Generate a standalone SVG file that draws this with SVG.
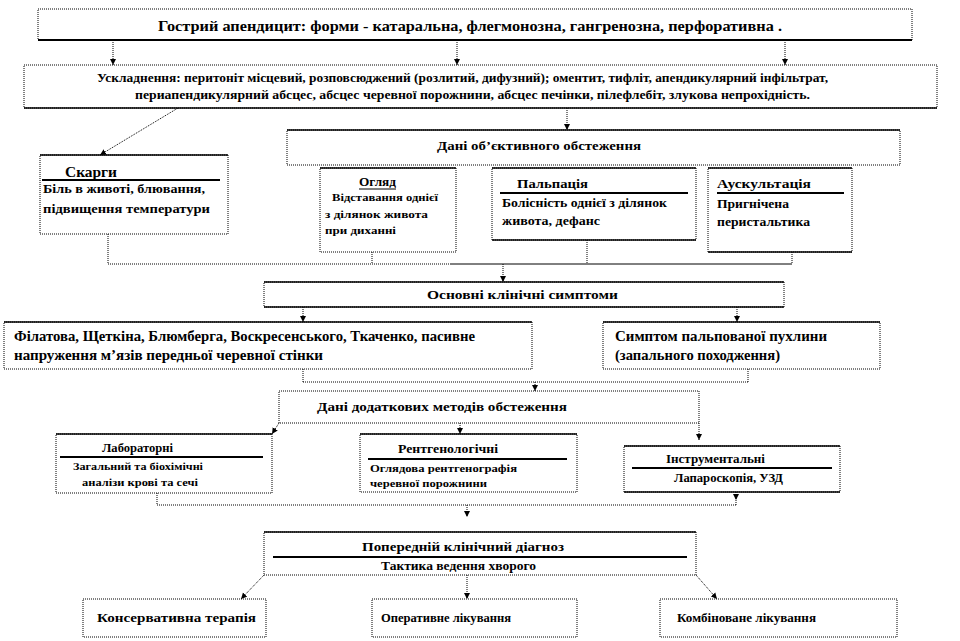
<svg xmlns="http://www.w3.org/2000/svg" width="960" height="641" viewBox="0 0 960 641">
<defs>
<marker id="ar" markerUnits="userSpaceOnUse" markerWidth="7" markerHeight="7" refX="6" refY="3.5" orient="auto">
<path d="M0,0.5 L6,3.5 L0,6.5 z" fill="#000"/>
</marker>
<style>
.box{fill:#fff;stroke:#000;stroke-width:1;stroke-dasharray:1 1}
.sl{stroke:#000;stroke-width:1.5}
.ul{stroke:#000;stroke-width:2}
.c{fill:none;stroke:#000;stroke-width:1;stroke-dasharray:1 1}
.ca{fill:none;stroke:#000;stroke-width:1;stroke-dasharray:1 1;marker-end:url(#ar)}
.t{font-family:"Liberation Serif","Times New Roman",serif;font-weight:bold;fill:#000}
</style>
</defs>
<rect width="960" height="641" fill="#fff"/>

<g id="connectors">
<line class="ca" x1="113" y1="40" x2="113" y2="65"/>
<line class="ca" x1="457" y1="40" x2="457" y2="65"/>
<line class="ca" x1="785" y1="40" x2="785" y2="65"/>
<line class="ca" x1="178" y1="108" x2="100" y2="155"/>
<line class="ca" x1="567" y1="108" x2="567" y2="130"/>
<line class="c" x1="108" y1="234" x2="108" y2="264"/>
<line class="c" x1="372" y1="252" x2="372" y2="264"/>
<line class="c" x1="587" y1="240" x2="587" y2="264"/>
<line class="c" x1="792" y1="252" x2="792" y2="264"/>
<line class="c" x1="108" y1="264" x2="450" y2="264"/>
<line stroke="#000" stroke-width="1" x1="450" y1="264" x2="792" y2="264"/>
<line class="ca" x1="503" y1="264" x2="503" y2="282"/>
<line class="ca" x1="303" y1="307" x2="303" y2="322"/>
<line class="ca" x1="737" y1="307" x2="737" y2="322"/>
<line class="c" x1="303" y1="369" x2="303" y2="382"/>
<line class="c" x1="303" y1="382" x2="748" y2="382"/>
<line class="c" x1="748" y1="369" x2="748" y2="382"/>
<line class="ca" x1="535" y1="382" x2="535" y2="391"/>
<line class="ca" x1="279" y1="423" x2="272" y2="434"/>
<line class="ca" x1="460" y1="423" x2="460" y2="434"/>
<line class="ca" x1="699" y1="423" x2="699" y2="440"/>
<line class="c" x1="157" y1="493" x2="157" y2="505"/>
<line class="c" x1="157" y1="505" x2="736" y2="505"/>
<line class="c" x1="736" y1="492" x2="736" y2="505"/>
<path d="M733,494 L739,494 L736,500 z" fill="#000"/>
<line class="ca" x1="467" y1="505" x2="467" y2="517"/>
<line class="ca" x1="264" y1="575" x2="241" y2="599"/>
<line class="ca" x1="467" y1="575" x2="467" y2="599"/>
<line class="ca" x1="696" y1="575" x2="717" y2="599"/>
</g>

<g id="n-top">
<rect class="box" x="38" y="9" width="874" height="31"/>
<line class="ul" x1="38" y1="40" x2="912" y2="40"/>
<text class="t" x="158" y="31" font-size="14" textLength="624" lengthAdjust="spacingAndGlyphs">Гострий  апендицит:  форми -  катаральна, флегмонозна, гангренозна, перфоративна .</text>
</g>

<g id="n-complications">
<rect class="box" x="24" y="65" width="913" height="43"/>
<line class="sl" x1="24" y1="108" x2="937" y2="108"/>
<text class="t" x="97" y="82" font-size="12" textLength="731" lengthAdjust="spacingAndGlyphs">Ускладнення:  перитоніт  місцевий,  розповсюджений  (розлитий,  дифузний);  оментит,  тифліт,  апендикулярний  інфільтрат,</text>
<text class="t" x="135" y="99" font-size="12" textLength="675" lengthAdjust="spacingAndGlyphs">периапендикулярний  абсцес,  абсцес черевної порожнини,  абсцес печінки, пілефлебіт,  злукова  непрохідність.</text>
</g>

<g id="n-complaints">
<rect class="box" x="40" y="155" width="188" height="79"/>
<line class="sl" x1="40" y1="155" x2="228" y2="155"/>
<text class="t" x="65" y="177" font-size="14" textLength="52" lengthAdjust="spacingAndGlyphs">Скарги</text>
<line class="ul" x1="42" y1="180" x2="220" y2="180"/>
<text class="t" x="43" y="193" font-size="13" textLength="162" lengthAdjust="spacingAndGlyphs">Біль в животі,  блювання,</text>
<text class="t" x="43" y="213" font-size="13" textLength="167" lengthAdjust="spacingAndGlyphs">підвищення  температури</text>
</g>

<g id="n-objective">
<rect class="box" x="287" y="130" width="613" height="35"/>
<line class="sl" x1="287" y1="130" x2="900" y2="130"/>
<text class="t" x="437" y="150" font-size="13" textLength="204" lengthAdjust="spacingAndGlyphs">Дані об’єктивного обстеження</text>
</g>

<g id="n-inspection">
<rect class="box" x="320" y="168" width="136" height="84"/>
<line class="sl" x1="320" y1="168" x2="456" y2="168"/>
<text class="t" x="359" y="186" font-size="12" textLength="37" lengthAdjust="spacingAndGlyphs">Огляд</text>
<line stroke="#000" stroke-width="1" x1="359" y1="189" x2="396" y2="189"/>
<text class="t" x="332" y="201" font-size="11" textLength="106" lengthAdjust="spacingAndGlyphs">Відставання  однієї</text>
<text class="t" x="325" y="218" font-size="11" textLength="103" lengthAdjust="spacingAndGlyphs">з ділянок  живота</text>
<text class="t" x="325" y="234" font-size="11" textLength="71" lengthAdjust="spacingAndGlyphs">при диханні</text>
</g>

<g id="n-palpation">
<rect class="box" x="492" y="168" width="204" height="72"/>
<line class="sl" x1="492" y1="168" x2="696" y2="168"/>
<line class="sl" x1="492" y1="240" x2="696" y2="240"/>
<text class="t" x="517" y="188" font-size="13" textLength="71" lengthAdjust="spacingAndGlyphs">Пальпація</text>
<line class="ul" x1="500" y1="193" x2="688" y2="193"/>
<text class="t" x="502" y="207" font-size="12" textLength="165" lengthAdjust="spacingAndGlyphs">Болісність однієї  з ділянок</text>
<text class="t" x="502" y="225" font-size="12" textLength="98" lengthAdjust="spacingAndGlyphs">живота, дефанс</text>
</g>

<g id="n-auscultation">
<rect class="box" x="708" y="168" width="144" height="84"/>
<line class="sl" x1="708" y1="168" x2="852" y2="168"/>
<line class="sl" x1="708" y1="252" x2="852" y2="252"/>
<text class="t" x="717" y="188" font-size="13" textLength="94" lengthAdjust="spacingAndGlyphs">Аускультація</text>
<line class="ul" x1="717" y1="193" x2="844" y2="193"/>
<text class="t" x="717" y="208" font-size="12" textLength="72" lengthAdjust="spacingAndGlyphs">Пригнічена</text>
<text class="t" x="717" y="226" font-size="12" textLength="93" lengthAdjust="spacingAndGlyphs">перистальтика</text>
</g>

<g id="n-main-symptoms">
<rect class="box" x="264" y="282" width="520" height="25"/>
<line class="sl" x1="264" y1="282" x2="784" y2="282"/>
<line class="sl" x1="264" y1="307" x2="784" y2="307"/>
<text class="t" x="427" y="299" font-size="13" textLength="191" lengthAdjust="spacingAndGlyphs">Основні клінічні симптоми</text>
</g>

<g id="n-signs">
<rect class="box" x="4" y="322" width="528" height="47"/>
<line class="sl" x1="4" y1="322" x2="532" y2="322"/>
<text class="t" x="14" y="341" font-size="14" textLength="461" lengthAdjust="spacingAndGlyphs">Філатова, Щеткіна, Блюмберга, Воскресенського, Ткаченко, пасивне</text>
<text class="t" x="14" y="360" font-size="14" textLength="309" lengthAdjust="spacingAndGlyphs">напруження м’язів передньої  черевної стінки</text>
</g>

<g id="n-tumor">
<rect class="box" x="603" y="322" width="277" height="47"/>
<line class="sl" x1="603" y1="322" x2="880" y2="322"/>
<text class="t" x="615" y="341" font-size="14" textLength="212" lengthAdjust="spacingAndGlyphs">Симптом пальпованої пухлини</text>
<text class="t" x="615" y="360" font-size="14" textLength="165" lengthAdjust="spacingAndGlyphs">(запального походження)</text>
</g>

<g id="n-additional">
<rect class="box" x="279" y="391" width="420" height="32"/>
<text class="t" x="317" y="411" font-size="13" textLength="250" lengthAdjust="spacingAndGlyphs">Дані додаткових методів обстеження</text>
</g>

<g id="n-lab">
<rect class="box" x="56" y="434" width="216" height="59"/>
<line class="sl" x1="56" y1="434" x2="272" y2="434"/>
<text class="t" x="102" y="452" font-size="12" textLength="71" lengthAdjust="spacingAndGlyphs">Лабораторні</text>
<line class="ul" x1="60" y1="457" x2="263" y2="457"/>
<text class="t" x="73" y="470" font-size="11" textLength="130" lengthAdjust="spacingAndGlyphs">Загальний та біохімічні</text>
<text class="t" x="82" y="486" font-size="11" textLength="116" lengthAdjust="spacingAndGlyphs">аналізи крові та сечі</text>
</g>

<g id="n-xray">
<rect class="box" x="360" y="434" width="217" height="58"/>
<line class="sl" x1="360" y1="434" x2="577" y2="434"/>
<text class="t" x="398" y="453" font-size="13" textLength="100" lengthAdjust="spacingAndGlyphs">Рентгенологічні</text>
<line class="ul" x1="368" y1="459" x2="567" y2="459"/>
<text class="t" x="370" y="472" font-size="11" textLength="147" lengthAdjust="spacingAndGlyphs">Оглядова  рентгенографія</text>
<text class="t" x="370" y="487" font-size="11" textLength="117" lengthAdjust="spacingAndGlyphs">черевної порожнини</text>
</g>

<g id="n-instrumental">
<rect class="box" x="624" y="446" width="216" height="46"/>
<line class="sl" x1="624" y1="446" x2="840" y2="446"/>
<line class="sl" x1="624" y1="492" x2="840" y2="492"/>
<text class="t" x="666" y="463" font-size="12" textLength="99" lengthAdjust="spacingAndGlyphs">Інструментальні</text>
<line class="ul" x1="632" y1="468" x2="832" y2="468"/>
<text class="t" x="674" y="482" font-size="12" textLength="109" lengthAdjust="spacingAndGlyphs">Лапароскопія, УЗД</text>
</g>

<g id="n-diagnosis">
<rect class="box" x="264" y="532" width="432" height="43"/>
<line class="sl" x1="264" y1="532" x2="696" y2="532"/>
<text class="t" x="362" y="551" font-size="13" textLength="202" lengthAdjust="spacingAndGlyphs">Попередній клінічний діагноз</text>
<line class="ul" x1="273" y1="557" x2="687" y2="557"/>
<text class="t" x="381" y="570" font-size="12" textLength="155" lengthAdjust="spacingAndGlyphs">Тактика ведення хворого</text>
</g>

<g id="n-conservative">
<rect class="box" x="83" y="599" width="183" height="38"/>
<text class="t" x="97" y="622" font-size="13" textLength="159" lengthAdjust="spacingAndGlyphs">Консервативна терапія</text>
</g>

<g id="n-operative">
<rect class="box" x="372" y="599" width="205" height="38"/>
<text class="t" x="381" y="622" font-size="12" textLength="130" lengthAdjust="spacingAndGlyphs">Оперативне  лікування</text>
</g>

<g id="n-combined">
<rect class="box" x="660" y="599" width="237" height="38"/>
<text class="t" x="677" y="622" font-size="12" textLength="139" lengthAdjust="spacingAndGlyphs">Комбіноване  лікування</text>
</g>
</svg>
